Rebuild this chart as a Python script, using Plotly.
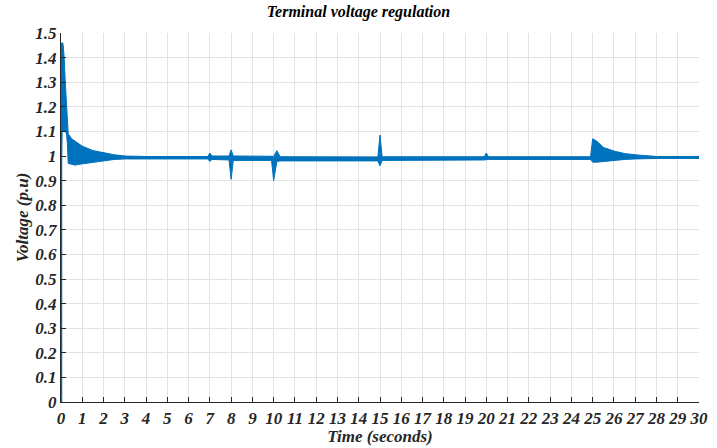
import plotly.graph_objects as go

# envelope of the simulated terminal voltage (p.u.) vs time (s)
time_s = [0.0, 0.05, 0.1, 0.15, 0.2, 0.26, 0.30, 0.34, 0.5, 0.65, 1.0, 1.5, 2.0, 2.5, 3.0, 4.0,
          6.9, 7.0, 7.1, 7.9, 8.0, 8.1, 9.9, 10.0, 10.15, 10.3,
          14.9, 15.0, 15.1, 19.9, 20.0, 20.1, 24.9, 25.0, 25.2, 25.5, 26.0, 26.5,
          27.0, 27.5, 28.0, 30.0]
v_upper = [0.97, 1.46, 1.45, 1.40, 1.30, 1.2, 1.14, 1.09, 1.07, 1.06, 1.04, 1.022, 1.012, 1.005, 1.0, 0.998,
           0.998, 1.012, 1.0, 1.0, 1.025, 1.0, 0.999, 0.998, 1.022, 0.997,
           0.996, 1.085, 0.997, 0.997, 1.012, 0.997, 0.997, 1.07, 1.06, 1.035, 1.02, 1.01,
           1.005, 1.0, 0.998, 0.998]
v_lower = [0.97, 1.12, 1.1, 1.1, 1.1, 1.09, 1.05, 0.97, 0.965, 0.963, 0.968, 0.975, 0.982, 0.986, 0.988, 0.988,
           0.988, 0.978, 0.986, 0.984, 0.905, 0.982, 0.982, 0.9, 0.978, 0.98,
           0.98, 0.96, 0.982, 0.984, 0.985, 0.986, 0.986, 0.975, 0.975, 0.978, 0.982, 0.986,
           0.988, 0.989, 0.99, 0.99]
start_t = [0.0, 0.0, 0.05]
start_v = [0.0, 0.97, 1.46]

x_ticks = list(range(0, 31))
y_ticks = [i / 10 for i in range(0, 16)]
y_tick_text = ["0", "0.1", "0.2", "0.3", "0.4", "0.5", "0.6", "0.7", "0.8", "0.9",
               "1", "1.1", "1.2", "1.3", "1.4", "1.5"]

blue = "#0072BD"
fig = go.Figure()
fig.add_trace(go.Scatter(x=time_s, y=v_lower, mode="lines",
                         line=dict(color=blue, width=1), showlegend=False, hoverinfo="skip"))
fig.add_trace(go.Scatter(x=time_s, y=v_upper, mode="lines", fill="tonexty", fillcolor=blue,
                         line=dict(color=blue, width=1), showlegend=False))
fig.add_trace(go.Scatter(x=start_t, y=start_v, mode="lines",
                         line=dict(color=blue, width=2.5), showlegend=False))

font_family = "Times New Roman, Liberation Serif, serif"
tfont = dict(family=font_family, size=17, color="#262626", weight="bold", style="italic")

fig.update_layout(
    width=717, height=448,
    margin=dict(l=61, r=9, t=33, b=41),
    paper_bgcolor="white", plot_bgcolor="white",
    title=dict(text="Terminal voltage regulation", x=0.5, xanchor="center",
               y=0.975, yanchor="middle",
               font=dict(family=font_family, size=16, color="black", weight="bold", style="italic")),
    xaxis=dict(range=[0, 30], tickvals=x_ticks, ticktext=[str(t) for t in x_ticks],
               showgrid=True, gridcolor="#e3e3e3", gridwidth=1, zeroline=False,
               showline=True, linecolor="#262626", linewidth=1.2,
               ticks="inside", ticklen=5, tickcolor="#262626", tickfont=tfont,
               title=dict(text="Time (seconds)", font=tfont, standoff=0)),
    yaxis=dict(range=[0, 1.5], tickvals=y_ticks, ticktext=y_tick_text,
               showgrid=True, gridcolor="#e3e3e3", gridwidth=1, zeroline=False,
               showline=True, linecolor="#262626", linewidth=1.2,
               ticks="inside", ticklen=5, tickcolor="#262626", tickfont=tfont,
               title=dict(text="Voltage (p.u)", font=tfont, standoff=2)),
)

fig.write_html("out.html")
